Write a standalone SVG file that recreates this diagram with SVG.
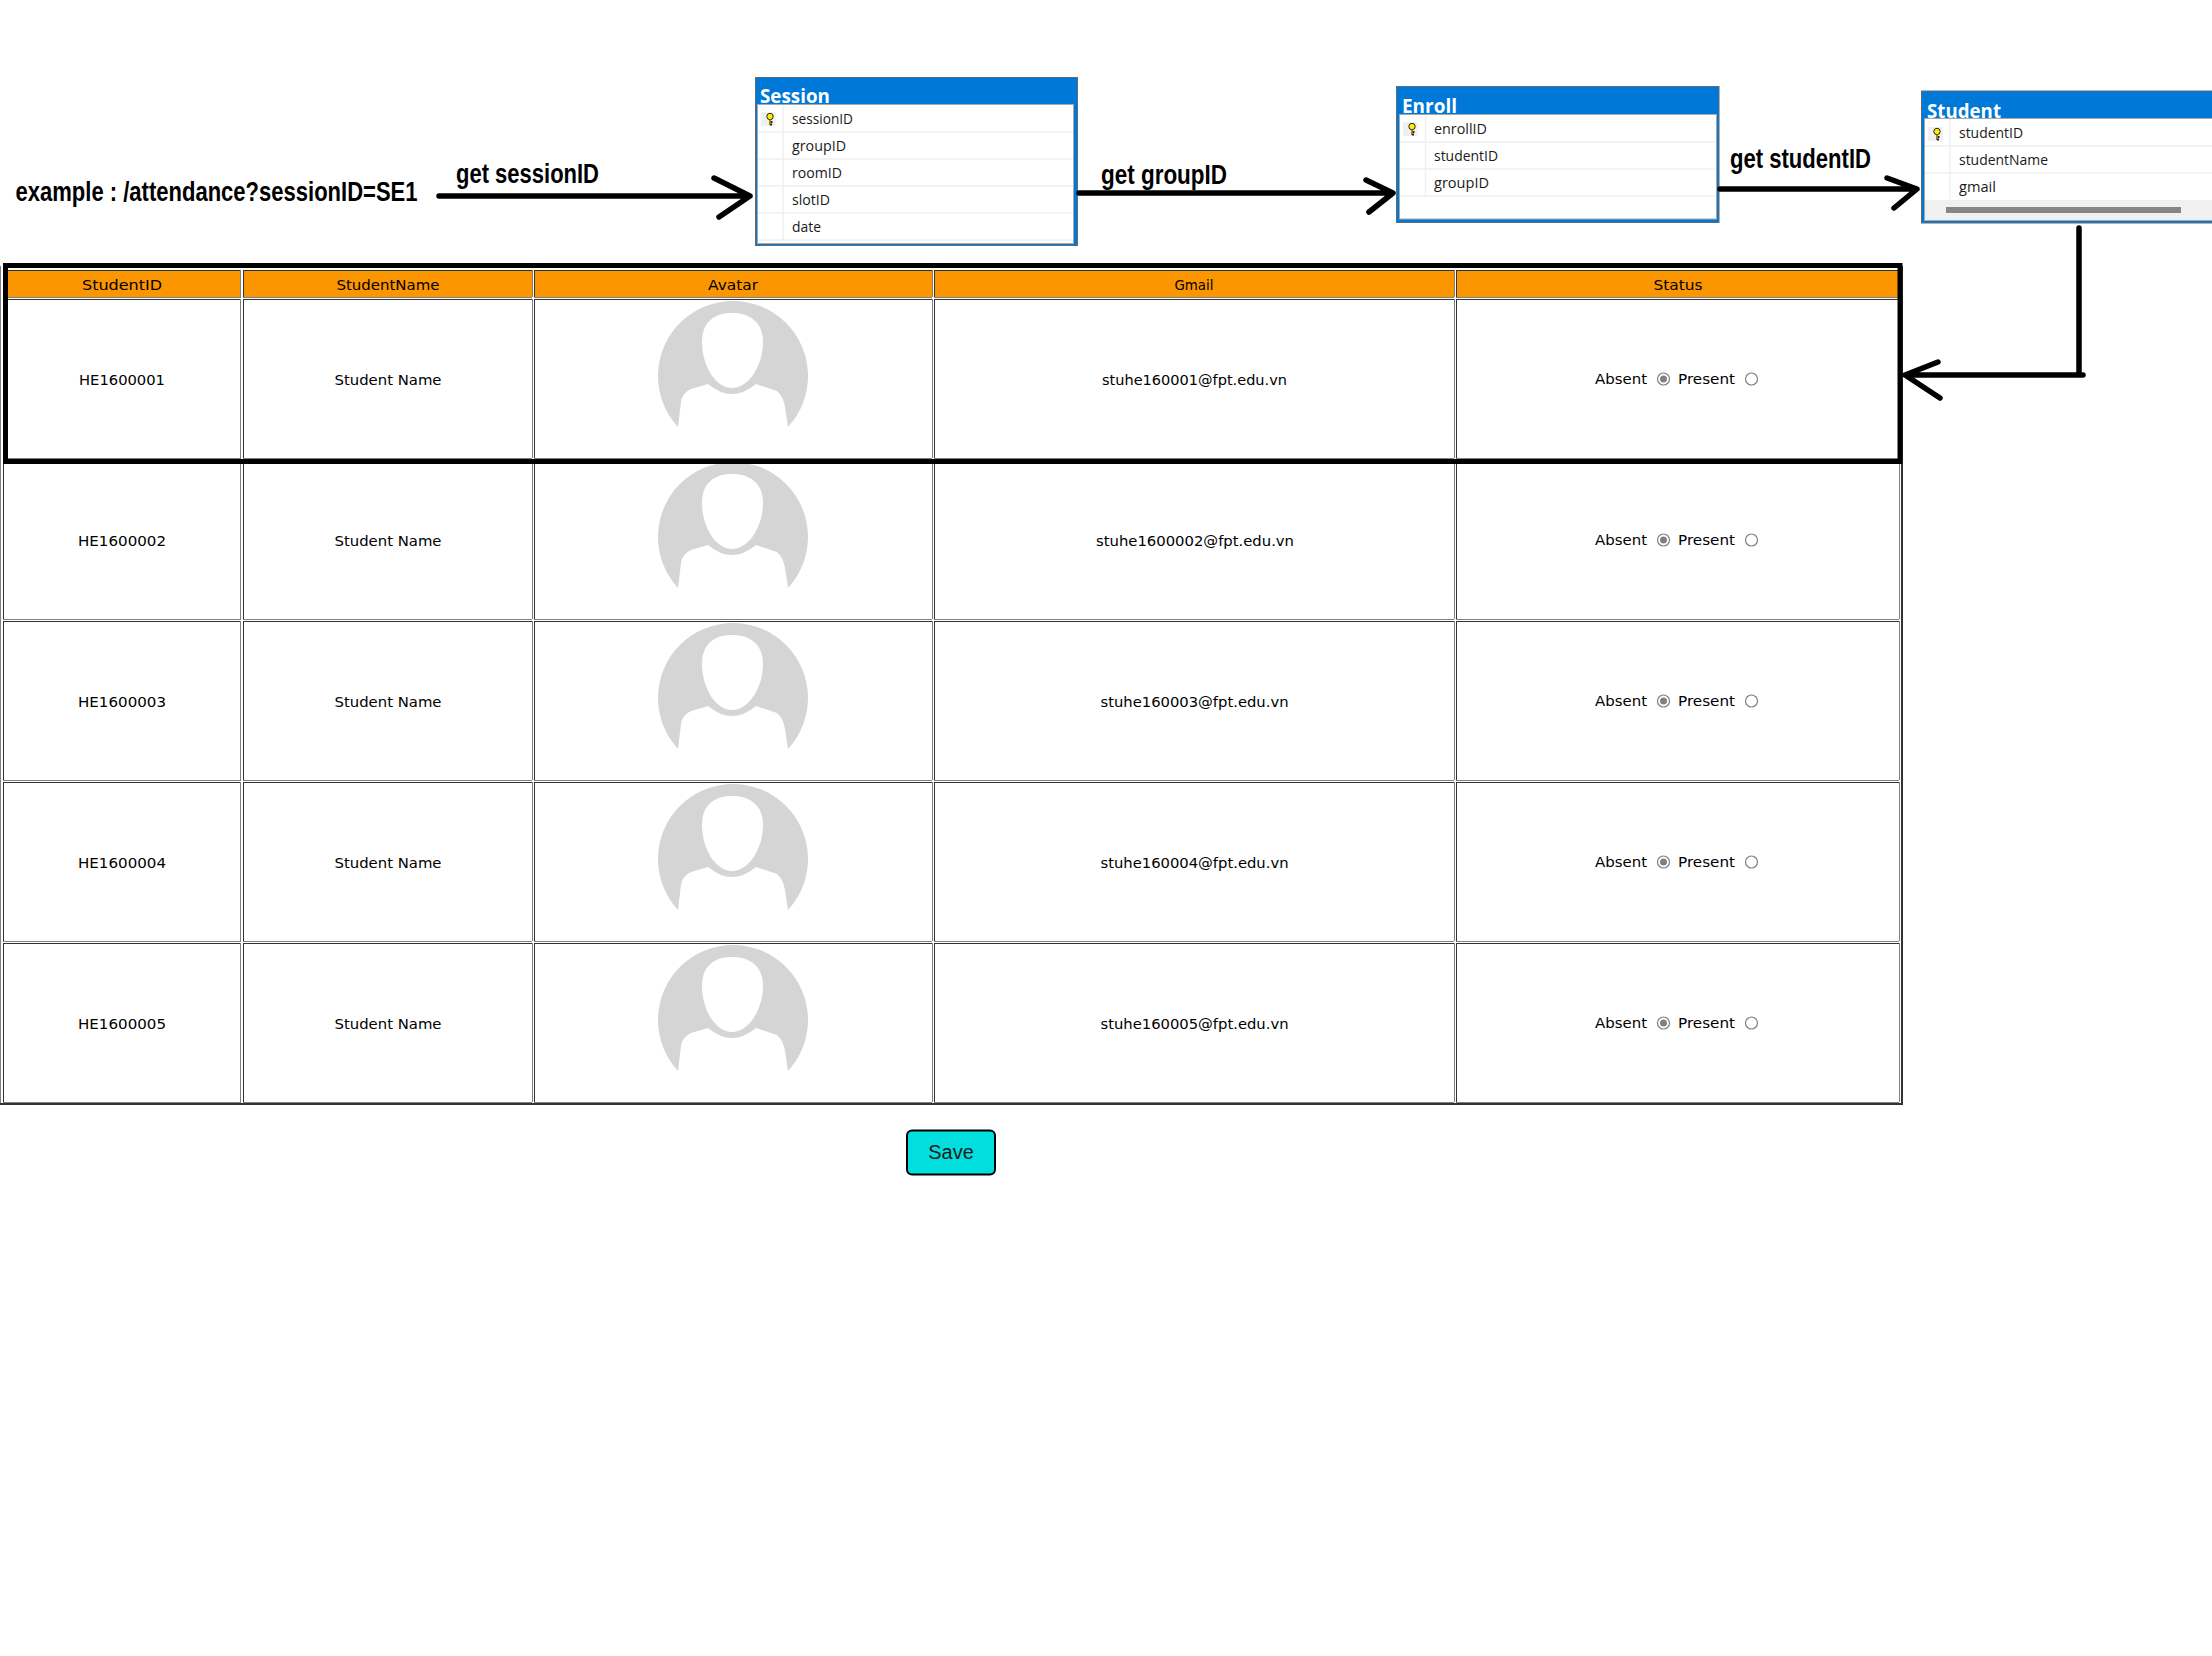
<svg xmlns="http://www.w3.org/2000/svg" xmlns:xlink="http://www.w3.org/1999/xlink" width="2212" height="1656" viewBox="0 0 2212 1656">
<style>
.lbl{font-family:"Liberation Sans",Arial,sans-serif;font-weight:700;font-size:28px;fill:#000}
.t{font-family:"DejaVu Sans",sans-serif;font-size:14px;fill:#000;text-anchor:middle}
.title{font-family:"Open Sans","Noto Sans",sans-serif;font-weight:700;font-size:20px;fill:#fff}
.f{font-family:"Open Sans","Noto Sans",sans-serif;font-size:14px;fill:#1a1a1a}
.box{fill:#0078d7;stroke:#5f6b75;stroke-width:1}
.inner{fill:#fff;stroke:#a8a8a8;stroke-width:1}
.div{fill:none;stroke:#f0f0f0;stroke-width:1.5}
.dark{fill:none;stroke:#333;stroke-width:1}
.gray{fill:none;stroke:#808080;stroke-width:1}
.con{fill:none;stroke:#000;stroke-width:5.500;stroke-linecap:round;stroke-linejoin:round}
.radio{fill:#fff;stroke:#808080;stroke-width:1.2}
</style>
<defs>
<g id="key">
<rect x="0" y="0" width="14.500" height="14" fill="#f0f0f0"/>
<circle cx="9" cy="4.500" r="3.200" fill="#ffee00" stroke="#222" stroke-width="1"/>
<path d="M9 7.500V12.500M9 10H11.500M9 12.500H11" fill="none" stroke="#222" stroke-width="2"/>
<path d="M9 7.500V12" fill="none" stroke="#ffee00" stroke-width="1"/>
</g>
<g id="avatar">
<path d="M679 427A75 75 0 1 1 789 427L786 407Q784 396 778 391L757 384Q745 394 733 394Q721 394 709 384L692 389Q683 393 682 402Z" fill="#d5d5d5" transform="translate(-1 0)"/>
<path d="M733 313C752 313 764 323 764 342C764 365 750 388 733 388C716 388 703 365 703 342C703 323 714 313 733 313Z" fill="#fff" transform="translate(-1 0)"/>
</g>
<g id="status">
<text class="t" x="1621" y="384" textLength="52" lengthAdjust="spacingAndGlyphs">Absent</text>
<circle class="radio" cx="1663.500" cy="379" r="6"/>
<circle cx="1663.500" cy="379" r="3.500" fill="#808080"/>
<text class="t" x="1706.500" y="384" textLength="57" lengthAdjust="spacingAndGlyphs">Present</text>
<circle class="radio" cx="1751.500" cy="379" r="6"/>
</g>
</defs>
<rect width="2212" height="1656" fill="#fff"/>

<g id="table">
<path d="M0.500 266V1104" fill="none" stroke="#808080" stroke-width="1"/>
<path d="M0 1104H1902V266" fill="none" stroke="#333" stroke-width="2"/>
<g id="header-row">
<rect x="4" y="270" width="236" height="27" fill="#fb9600"/>
<rect x="244" y="270" width="288" height="27" fill="#fb9600"/>
<rect x="535" y="270" width="397" height="27" fill="#fb9600"/>
<rect x="935" y="270" width="519" height="27" fill="#fb9600"/>
<rect x="1457" y="270" width="442" height="27" fill="#fb9600"/>
<text class="t" x="122" y="290" textLength="80" lengthAdjust="spacingAndGlyphs">StudentID</text>
<text class="t" x="388" y="290" textLength="103" lengthAdjust="spacingAndGlyphs">StudentName</text>
<text class="t" x="733" y="290" textLength="50" lengthAdjust="spacingAndGlyphs">Avatar</text>
<text class="t" x="1194" y="290" textLength="39" lengthAdjust="spacingAndGlyphs">Gmail</text>
<text class="t" x="1678" y="290" textLength="49" lengthAdjust="spacingAndGlyphs">Status</text>
</g>
<path class="dark" d="M3 270.500H241M3 299.500H241M3 460.500H241M3 621.500H241M3 782.500H241M3 943.500H241M243 270.500H532M243 299.500H532M243 460.500H532M243 621.500H532M243 782.500H532M243 943.500H532M534 270.500H932M534 299.500H932M534 460.500H932M534 621.500H932M534 782.500H932M534 943.500H932M934 270.500H1454M934 299.500H1454M934 460.500H1454M934 621.500H1454M934 782.500H1454M934 943.500H1454M1456 270.500H1899M1456 299.500H1899M1456 460.500H1899M1456 621.500H1899M1456 782.500H1899M1456 943.500H1899M3.500 270V297M3.500 299V458M3.500 460V619M3.500 621V780M3.500 782V941M3.500 943V1102M243.500 270V297M243.500 299V458M243.500 460V619M243.500 621V780M243.500 782V941M243.500 943V1102M534.500 270V297M534.500 299V458M534.500 460V619M534.500 621V780M534.500 782V941M534.500 943V1102M934.500 270V297M934.500 299V458M934.500 460V619M934.500 621V780M934.500 782V941M934.500 943V1102M1456.500 270V297M1456.500 299V458M1456.500 460V619M1456.500 621V780M1456.500 782V941M1456.500 943V1102"/>
<path class="gray" d="M3 297.500H241M3 458.500H241M3 619.500H241M3 780.500H241M3 941.500H241M3 1102.500H241M243 297.500H532M243 458.500H532M243 619.500H532M243 780.500H532M243 941.500H532M243 1102.500H532M534 297.500H932M534 458.500H932M534 619.500H932M534 780.500H932M534 941.500H932M534 1102.500H932M934 297.500H1454M934 458.500H1454M934 619.500H1454M934 780.500H1454M934 941.500H1454M934 1102.500H1454M1456 297.500H1899M1456 458.500H1899M1456 619.500H1899M1456 780.500H1899M1456 941.500H1899M1456 1102.500H1899M240.500 270V297M240.500 299V458M240.500 460V619M240.500 621V780M240.500 782V941M240.500 943V1102M532.500 270V297M532.500 299V458M532.500 460V619M532.500 621V780M532.500 782V941M532.500 943V1102M932.500 270V297M932.500 299V458M932.500 460V619M932.500 621V780M932.500 782V941M932.500 943V1102M1454.500 270V297M1454.500 299V458M1454.500 460V619M1454.500 621V780M1454.500 782V941M1454.500 943V1102M1899.500 270V297M1899.500 299V458M1899.500 460V619M1899.500 621V780M1899.500 782V941M1899.500 943V1102"/>
<g id="row-1">
<text class="t" x="122" y="384.500" textLength="86" lengthAdjust="spacingAndGlyphs">HE1600001</text>
<text class="t" x="388" y="384.500" textLength="107" lengthAdjust="spacingAndGlyphs">Student Name</text>
<use xlink:href="#avatar"/>
<text class="t" x="1194.500" y="384.500" textLength="185" lengthAdjust="spacingAndGlyphs">stuhe160001@fpt.edu.vn</text>
<use xlink:href="#status"/>
</g>
<g id="row-2">
<text class="t" x="122" y="545.500" textLength="88" lengthAdjust="spacingAndGlyphs">HE1600002</text>
<text class="t" x="388" y="545.500" textLength="107" lengthAdjust="spacingAndGlyphs">Student Name</text>
<use xlink:href="#avatar" y="161"/>
<text class="t" x="1195" y="545.500" textLength="198" lengthAdjust="spacingAndGlyphs">stuhe1600002@fpt.edu.vn</text>
<use xlink:href="#status" y="161"/>
</g>
<g id="row-3">
<text class="t" x="122" y="706.500" textLength="88" lengthAdjust="spacingAndGlyphs">HE1600003</text>
<text class="t" x="388" y="706.500" textLength="107" lengthAdjust="spacingAndGlyphs">Student Name</text>
<use xlink:href="#avatar" y="322"/>
<text class="t" x="1194.500" y="706.500" textLength="188" lengthAdjust="spacingAndGlyphs">stuhe160003@fpt.edu.vn</text>
<use xlink:href="#status" y="322"/>
</g>
<g id="row-4">
<text class="t" x="122" y="867.500" textLength="88" lengthAdjust="spacingAndGlyphs">HE1600004</text>
<text class="t" x="388" y="867.500" textLength="107" lengthAdjust="spacingAndGlyphs">Student Name</text>
<use xlink:href="#avatar" y="483"/>
<text class="t" x="1194.500" y="867.500" textLength="188" lengthAdjust="spacingAndGlyphs">stuhe160004@fpt.edu.vn</text>
<use xlink:href="#status" y="483"/>
</g>
<g id="row-5">
<text class="t" x="122" y="1028.500" textLength="88" lengthAdjust="spacingAndGlyphs">HE1600005</text>
<text class="t" x="388" y="1028.500" textLength="107" lengthAdjust="spacingAndGlyphs">Student Name</text>
<use xlink:href="#avatar" y="644"/>
<text class="t" x="1194.500" y="1028.500" textLength="188" lengthAdjust="spacingAndGlyphs">stuhe160005@fpt.edu.vn</text>
<use xlink:href="#status" y="644"/>
</g>
</g>

<g id="highlight"><rect x="5.500" y="265.500" width="1894.500" height="196" fill="none" stroke="#000" stroke-width="5"/></g>

<g id="session">
<rect class="box" x="755.500" y="77.500" width="322" height="168"/>
<rect class="inner" x="757.500" y="104.500" width="316" height="139"/>
<path class="div" d="M758 132H1073M758 159H1073M758 186H1073M758 213H1073M758 240H1073M783 105V240"/>
<use xlink:href="#key" x="761" y="112"/>
<text class="title" x="760" y="103" textLength="70" lengthAdjust="spacingAndGlyphs">Session</text>
<text class="f" x="792" y="124" textLength="61" lengthAdjust="spacingAndGlyphs">sessionID</text>
<text class="f" x="792" y="151" textLength="54" lengthAdjust="spacingAndGlyphs">groupID</text>
<text class="f" x="792" y="178" textLength="50" lengthAdjust="spacingAndGlyphs">roomID</text>
<text class="f" x="792" y="205" textLength="38" lengthAdjust="spacingAndGlyphs">slotID</text>
<text class="f" x="792" y="232" textLength="29" lengthAdjust="spacingAndGlyphs">date</text>
</g>

<g id="enroll">
<rect class="box" x="1396.500" y="86.500" width="322.500" height="136"/>
<rect class="inner" x="1399.500" y="114.500" width="317" height="104.500"/>
<path class="div" d="M1400 142H1715M1400 169H1715M1400 196H1715M1425.500 115V196"/>
<use xlink:href="#key" x="1403" y="122"/>
<text class="title" x="1402" y="113" textLength="55" lengthAdjust="spacingAndGlyphs">Enroll</text>
<text class="f" x="1434" y="134" textLength="53" lengthAdjust="spacingAndGlyphs">enrollID</text>
<text class="f" x="1434" y="161" textLength="64" lengthAdjust="spacingAndGlyphs">studentID</text>
<text class="f" x="1434" y="188" textLength="55" lengthAdjust="spacingAndGlyphs">groupID</text>
</g>

<g id="student">
<rect class="box" x="1921.500" y="91" width="300" height="132"/>
<rect class="inner" x="1924.500" y="118.500" width="300" height="102"/>
<path class="div" d="M1925 146H2212M1925 173H2212M1950 119V199"/>
<rect x="1925" y="200" width="287" height="20" fill="#f0f0f0"/>
<rect x="1946" y="207" width="235" height="6" fill="#868686"/>
<use xlink:href="#key" x="1928" y="127"/>
<text class="title" x="1927" y="117.500" textLength="74" lengthAdjust="spacingAndGlyphs">Student</text>
<text class="f" x="1959" y="138" textLength="64" lengthAdjust="spacingAndGlyphs">studentID</text>
<text class="f" x="1959" y="165" textLength="89" lengthAdjust="spacingAndGlyphs">studentName</text>
<text class="f" x="1959" y="192" textLength="37" lengthAdjust="spacingAndGlyphs">gmail</text>
</g>

<g id="connectors">
<path class="con" d="M439 196H750M714 178L750 196L719 217"/>
<path class="con" d="M1079 193H1392M1366 180L1393 193L1369 212"/>
<path class="con" d="M1720 189H1916M1887 178L1917 189L1894 208"/>
<path class="con" d="M2079 228V375M2083 375H1905M1938 362L1905 375L1940 398"/>
</g>

<g id="labels">
<text class="lbl" transform="translate(15.500 201) scale(0.85 1)" textLength="473" lengthAdjust="spacingAndGlyphs">example : /attendance?sessionID=SE1</text>
<text class="lbl" x="456" y="183" textLength="143" lengthAdjust="spacingAndGlyphs">get sessionID</text>
<text class="lbl" x="1101" y="184" textLength="126" lengthAdjust="spacingAndGlyphs">get groupID</text>
<text class="lbl" x="1730" y="168" textLength="141" lengthAdjust="spacingAndGlyphs">get studentID</text>
</g>

<g id="save">
<rect x="907" y="1130.500" width="88" height="44" rx="5" fill="#00dede" stroke="#000" stroke-width="2"/>
<text x="951" y="1159" font-family="Liberation Sans, Arial, sans-serif" font-size="20" text-anchor="middle" fill="#1a1a1a">Save</text>
</g>
</svg>
